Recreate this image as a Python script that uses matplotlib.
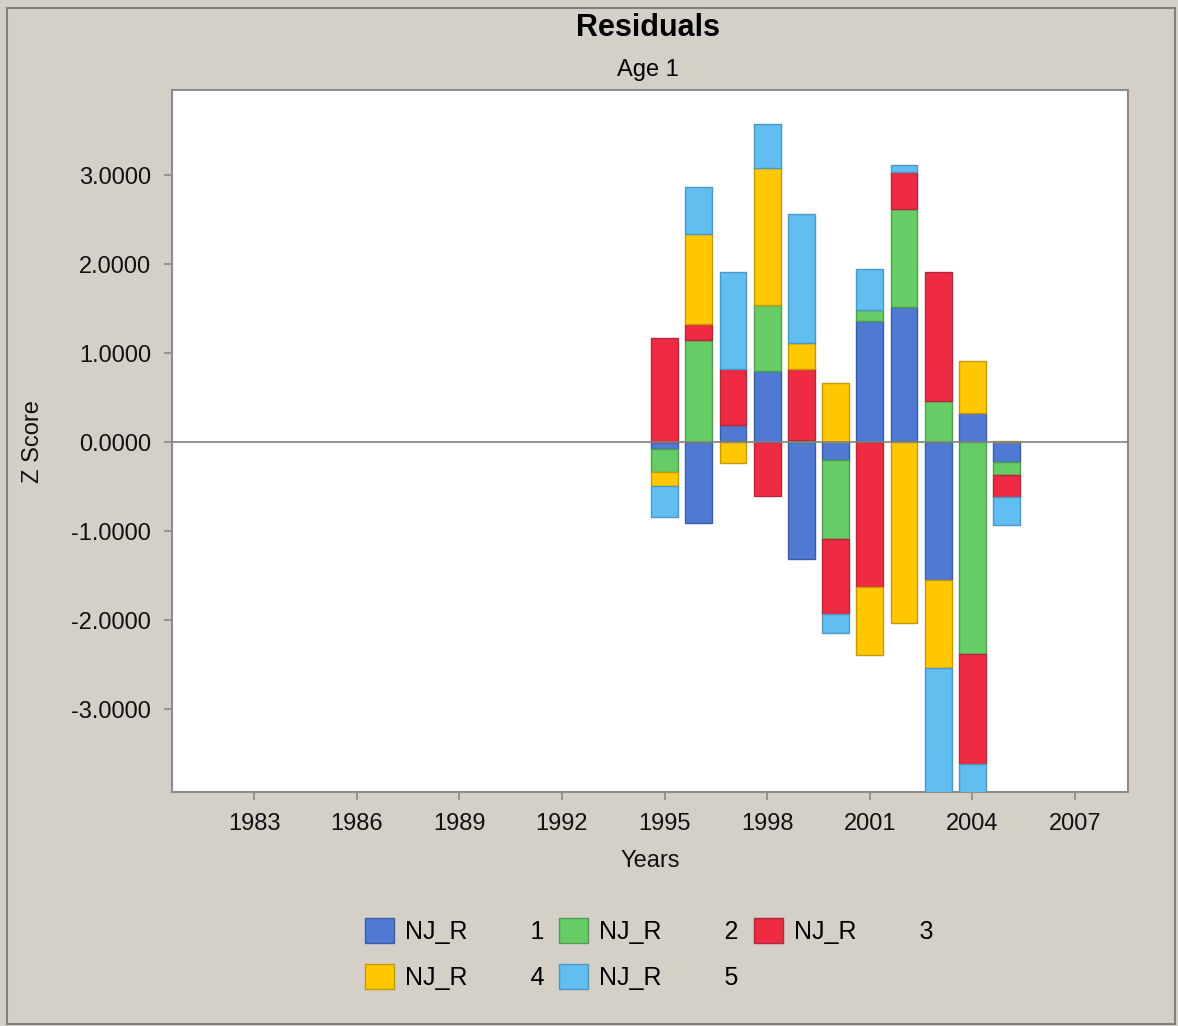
import numpy as np
import matplotlib
matplotlib.use('Agg')
import matplotlib.pyplot as plt
from matplotlib.patches import Rectangle

plt.rcParams['font.family'] = ['Liberation Sans', 'DejaVu Sans']

# residuals by year, one list per series (NJ_R 1..5)
years = [1995, 1996, 1997, 1998, 1999, 2000, 2001, 2002, 2003, 2004, 2005]
nj_r1 = [-0.08, -0.91, 0.19, 0.80, -1.31, -0.20, 1.36, 1.52, -1.55, 0.33, -0.22]
nj_r2 = [-0.25, 1.15, 0.00, 0.74, 0.03, -0.89, 0.13, 1.10, 0.46, -2.38, -0.15]
nj_r3 = [1.17, 0.18, 0.63, -0.60, 0.79, -0.84, -1.63, 0.41, 1.45, -1.24, -0.25]
nj_r4 = [-0.16, 1.01, -0.23, 1.54, 0.29, 0.67, -0.76, -2.03, -0.99, 0.58, 0.01]
nj_r5 = [-0.35, 0.53, 1.09, 0.49, 1.45, -0.21, 0.46, 0.08, -1.60, -0.60, -0.31]

series = [nj_r1, nj_r2, nj_r3, nj_r4, nj_r5]
labels = ['NJ_R' + ' ' * 9 + '1', 'NJ_R' + ' ' * 9 + '2', 'NJ_R' + ' ' * 9 + '3',
          'NJ_R' + ' ' * 9 + '4', 'NJ_R' + ' ' * 9 + '5']
colors = ['#5079D4', '#66CC66', '#EE2B42', '#FFC800', '#62BDF0']
edges = ['#3B5CA6', '#4E9E4E', '#B5263A', '#C49A00', '#4A98C4']

bg = '#D4D0C8'
FIG = plt.figure(figsize=(11.78, 10.26), dpi=100, facecolor=bg)
AX = FIG.add_axes([0.146, 0.228, 0.8116, 0.6842])
AX.set_facecolor('white')

pos_bottom = np.zeros(len(years))
neg_bottom = np.zeros(len(years))
handles = []
for vals, col, ec, lab in zip(series, colors, edges, labels):
	vals = np.array(vals)
	bottom = np.where(vals >= 0, pos_bottom, neg_bottom)
	h = AX.bar(years, vals, width=0.78, bottom=bottom, color=col, edgecolor=ec,
			   linewidth=1.0, label=lab, zorder=3)
	handles.append(h)
	pos_bottom += np.where(vals >= 0, vals, 0)
	neg_bottom += np.where(vals < 0, vals, 0)

AX.axhline(0, color='#808080', linewidth=1.2, zorder=4)

AX.set_xlim(1980.6, 2008.55)
AX.set_ylim(-3.93, 3.955)
AX.set_xticks(range(1983, 2008, 3))
AX.set_yticks([-3, -2, -1, 0, 1, 2, 3])
AX.set_yticklabels(['%.4f' % v for v in [-3, -2, -1, 0, 1, 2, 3]])
AX.tick_params(axis='both', labelsize=17, colors='#888888', labelcolor='#111111',
			   length=6, width=1.2, direction='out')
AX.tick_params(axis='x', pad=9)
AX.tick_params(axis='y', pad=9)
for sp in AX.spines.values():
	sp.set_color('#8c8c8c')
	sp.set_linewidth(1.5)

AX.set_xlabel('Years', fontsize=17, color='#111111', labelpad=11)
AX.set_ylabel('Z Score', fontsize=17, color='#111111', labelpad=20)

FIG.text(0.55, 1 - 28 / 1026, 'Residuals', ha='center', va='center',
		 fontsize=22, fontweight='bold', color='black')
FIG.text(0.55, 1 - 70 / 1026, 'Age 1', ha='center', va='center',
		 fontsize=17, color='black')

# legend filled row by row
order = [0, 3, 1, 4, 2]
leg = FIG.legend([handles[i] for i in order], [labels[i] for i in order],
				 loc='center', bbox_to_anchor=(0.551, 0.0702), bbox_transform=FIG.transFigure,
				 ncol=3, frameon=False, fontsize=18, handlelength=1.15, handleheight=1.15,
				 handletextpad=0.45, columnspacing=0.6, labelspacing=0.8)

# outer border
FIG.patches.append(Rectangle((7 / 1178, 2 / 1026), 1168 / 1178, 1016 / 1026,
							 transform=FIG.transFigure, fill=False,
							 edgecolor='#808080', linewidth=1.5))

FIG.savefig('out.png', dpi=100, facecolor=bg)
